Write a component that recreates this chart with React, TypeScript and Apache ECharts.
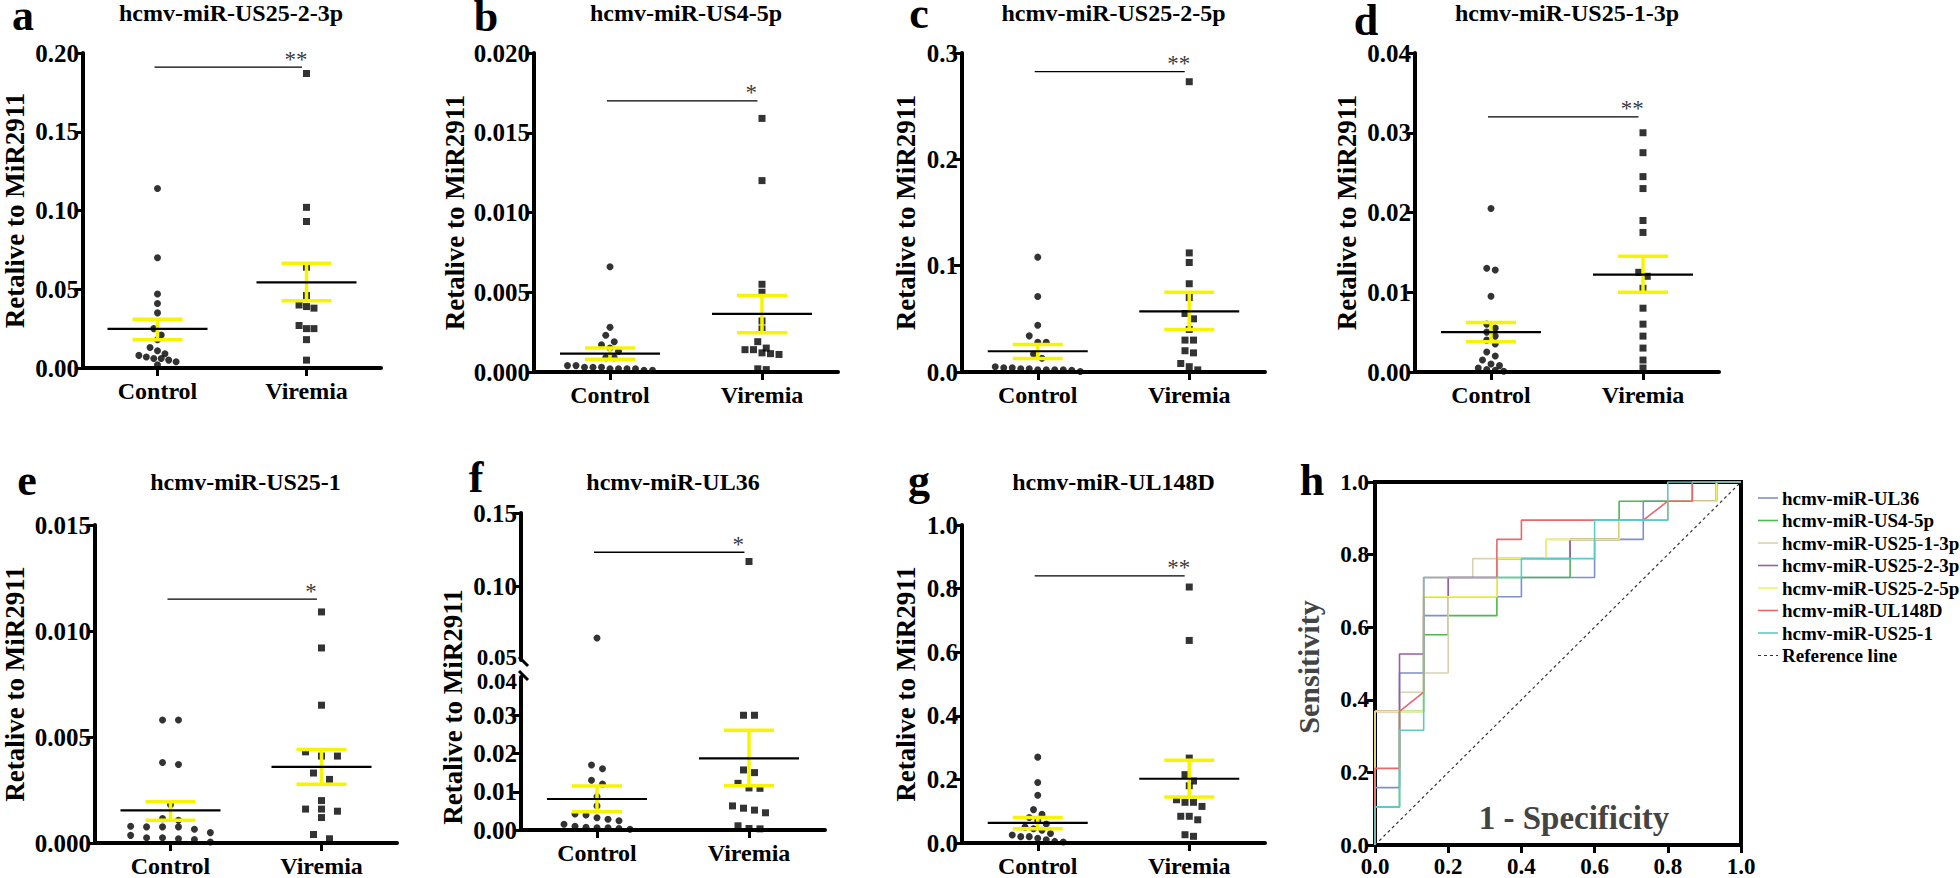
import React, { useEffect, useRef } from 'react';
import * as echarts from 'echarts';

const FONT = "'Liberation Serif', 'Times New Roman', Times, serif";
const YELLOW = '#F7F400';
const BLACK = '#000000';

const groups = ['Control', 'Viremia'];
const yAxisTitle = 'Retalive to MiR2911';

// ---- panel a ----
const aTitle = 'hcmv-miR-US25-2-3p';
const aTicks = [0, 0.05, 0.1, 0.15, 0.2];
const aControl = [0.114, 0.070, 0.047, 0.041, 0.035, 0.025, 0.021, 0.018, 0.013, 0.011, 0.009, 0.008, 0.007, 0.006, 0.006, 0.005, 0.004, 0.002];
const aViremia = [0.187, 0.102, 0.093, 0.064, 0.046, 0.040, 0.039, 0.038, 0.027, 0.025, 0.025, 0.018, 0.005];
const aMean = [0.0248, 0.0544];
const aSemLow = [0.018, 0.0427];
const aSemHigh = [0.031, 0.0665];
const aSig = 0.191;
const aStars = '**';

// ---- panel b ----
const bTitle = 'hcmv-miR-US4-5p';
const bTicks = [0, 0.005, 0.01, 0.015, 0.02];
const bControl = [0.0066, 0.0028, 0.0023, 0.0019, 0.0017, 0.0015, 0.0013, 0.0009, 0.0009, 0.0004, 0.0004, 0.0003, 0.0003, 0.0003, 0.0002, 0.0002, 0.0002, 0.0002, 0.0001, 0.0001];
const bViremia = [0.0159, 0.0120, 0.0055, 0.0050, 0.0032, 0.0027, 0.0019, 0.0015, 0.0014, 0.0014, 0.0012, 0.00115, 0.0011, 0.0002, 0.00015];
const bMean = [0.00115, 0.00365];
const bSemLow = [0.0008, 0.00246];
const bSemHigh = [0.0015, 0.00479];
const bSig = 0.017;
const bStars = '*';

// ---- panel c ----
const cTitle = 'hcmv-miR-US25-2-5p';
const cTicks = [0, 0.1, 0.2, 0.3];
const cControl = [0.108, 0.071, 0.044, 0.034, 0.028, 0.028, 0.017, 0.013, 0.005, 0.004, 0.004, 0.003, 0.003, 0.002, 0.002, 0.002, 0.002, 0.0016, 0.0005];
const cViremia = [0.273, 0.112, 0.103, 0.083, 0.070, 0.055, 0.050, 0.040, 0.030, 0.030, 0.020, 0.018, 0.008, 0.005, 0.002];
const cMean = [0.0195, 0.057];
const cSemLow = [0.0126, 0.040];
const cSemHigh = [0.0258, 0.075];
const cSig = 0.2825;
const cStars = '**';

// ---- panel d ----
const dTitle = 'hcmv-miR-US25-1-3p';
const dTicks = [0, 0.01, 0.02, 0.03, 0.04];
const dControl = [0.0205, 0.013, 0.0128, 0.0095, 0.006, 0.0055, 0.005, 0.0045, 0.004, 0.0035, 0.0025, 0.002, 0.0015, 0.001, 0.0008, 0.0005, 0.0003, 0.0002, 0.0001];
const dViremia = [0.030, 0.0275, 0.0245, 0.023, 0.019, 0.0175, 0.0125, 0.012, 0.0105, 0.008, 0.006, 0.0045, 0.003, 0.0015, 0.0005];
const dMean = [0.005, 0.0122];
const dSemLow = [0.0038, 0.010];
const dSemHigh = [0.0062, 0.0145];
const dSig = 0.032;
const dStars = '**';

// ---- panel e ----
const eTitle = 'hcmv-miR-US25-1';
const eTicks = [0, 0.005, 0.01, 0.015];
const eControl = [0.0058, 0.0058, 0.0038, 0.0037, 0.0018, 0.00115, 0.00107, 0.00079, 0.00076, 0.00076, 0.00076, 0.00065, 0.00049, 0.00036, 0.00025, 0.00025, 0.0002, 0.00016, 0.00005];
const eViremia = [0.0109, 0.0092, 0.0065, 0.0043, 0.0041, 0.0041, 0.0033, 0.0030, 0.0020, 0.0016, 0.0016, 0.0015, 0.0012, 0.0004, 0.0002];
const eMean = [0.00154, 0.00359];
const eSemLow = [0.00107, 0.00277];
const eSemHigh = [0.00194, 0.00441];
const eSig = 0.0115;
const eStars = '*';

// ---- panel f (broken axis) ----
const fTitle = 'hcmv-miR-UL36';
const fLowTicks = [0, 0.01, 0.02, 0.03, 0.04];
const fHighTicks = [0.05, 0.1, 0.15];
const fControl = [0.065, 0.017, 0.016, 0.013, 0.012, 0.0087, 0.0063, 0.0042, 0.0039, 0.0032, 0.0028, 0.0024, 0.0015, 0.001, 0.0007, 0.0006, 0.0006, 0.0004, 0.0002];
const fViremia = [0.117, 0.030, 0.030, 0.0157, 0.015, 0.0122, 0.011, 0.0109, 0.0063, 0.0057, 0.0052, 0.0045, 0.0011, 0.0004, 0.0003];
const fMean = [0.0081, 0.0187];
const fSemLow = [0.0048, 0.0116];
const fSemHigh = [0.0115, 0.0261];
const fSig = 0.1233;
const fStars = '*';

// ---- panel g ----
const gTitle = 'hcmv-miR-UL148D';
const gTicks = [0, 0.2, 0.4, 0.6, 0.8, 1.0];
const gControl = [0.27, 0.19, 0.15, 0.105, 0.09, 0.08, 0.07, 0.06, 0.05, 0.045, 0.04, 0.03, 0.025, 0.02, 0.02, 0.015, 0.01, 0.005, 0.003];
const gViremia = [0.805, 0.637, 0.267, 0.215, 0.195, 0.18, 0.136, 0.128, 0.128, 0.115, 0.084, 0.084, 0.073, 0.026, 0.021];
const gMean = [0.063, 0.202];
const gSemLow = [0.045, 0.145];
const gSemHigh = [0.08, 0.26];
const gSig = 0.84;
const gStars = '**';

// ---- panel h (ROC) ----
const rocTicks = [0, 0.2, 0.4, 0.6, 0.8, 1.0];
const rocNames = ['hcmv-miR-UL36', 'hcmv-miR-US4-5p', 'hcmv-miR-US25-1-3p', 'hcmv-miR-US25-2-3p', 'hcmv-miR-US25-2-5p', 'hcmv-miR-UL148D', 'hcmv-miR-US25-1'];
const rocColors = ['#7E8FCC', '#4DB84D', '#D9D2B0', '#9C5BA8', '#F2F26A', '#E8676B', '#5CCBC4'];
const rocUL36 = [[0, 0], [0, 0.158], [0.067, 0.158], [0.067, 0.474], [0.133, 0.474], [0.133, 0.632], [0.2, 0.632], [0.2, 0.684], [0.4, 0.684], [0.4, 0.737], [0.6, 0.737], [0.6, 0.842], [0.733, 0.842], [0.733, 0.947], [0.933, 0.947], [0.933, 1], [1, 1]];
const rocUS45p = [[0, 0], [0, 0.105], [0.067, 0.105], [0.067, 0.368], [0.133, 0.368], [0.133, 0.579], [0.2, 0.579], [0.2, 0.632], [0.333, 0.632], [0.333, 0.737], [0.533, 0.737], [0.533, 0.842], [0.667, 0.842], [0.667, 0.947], [0.867, 0.947], [0.867, 1], [1, 1]];
const rocUS2513p = [[0, 0], [0, 0.368], [0.067, 0.368], [0.067, 0.421], [0.133, 0.421], [0.133, 0.474], [0.2, 0.474], [0.2, 0.737], [0.267, 0.737], [0.267, 0.789], [0.467, 0.789], [0.467, 0.842], [0.667, 0.842], [0.667, 0.895], [0.8, 0.895], [0.8, 0.947], [0.933, 0.947], [0.933, 1], [1, 1]];
const rocUS2523p = [[0, 0], [0, 0.368], [0.067, 0.368], [0.067, 0.526], [0.133, 0.526], [0.133, 0.684], [0.2, 0.684], [0.2, 0.737], [0.333, 0.737], [0.333, 0.789], [0.533, 0.789], [0.533, 0.842], [0.667, 0.842], [0.667, 0.895], [0.8, 0.895], [0.8, 0.947], [0.933, 0.947], [0.933, 1], [1, 1]];
const rocUS2525p = [[0, 0], [0, 0.368], [0.133, 0.368], [0.133, 0.684], [0.333, 0.684], [0.333, 0.789], [0.467, 0.789], [0.467, 0.842], [0.667, 0.842], [0.667, 0.895], [0.8, 0.895], [0.8, 0.947], [0.933, 0.947], [0.933, 1], [1, 1]];
const rocUL148D = [[0, 0], [0, 0.211], [0.067, 0.211], [0.067, 0.368], [0.133, 0.421], [0.133, 0.737], [0.333, 0.737], [0.333, 0.842], [0.4, 0.842], [0.4, 0.895], [0.733, 0.895], [0.8, 0.947], [0.867, 0.947], [0.867, 1], [1, 1]];
const rocUS251 = [[0, 0], [0, 0.105], [0.067, 0.105], [0.067, 0.316], [0.133, 0.316], [0.133, 0.737], [0.4, 0.737], [0.4, 0.789], [0.6, 0.789], [0.6, 0.895], [0.8, 0.895], [0.8, 1], [1, 1]];
const rocReference = [[0, 0], [1, 1]];
const refName = 'Reference line';

// ---------- layout (pixels) ----------
const dotPanels = [
  { letter: 'a', title: aTitle, ticks: aTicks, dec: 2, control: aControl, viremia: aViremia, mean: aMean, lo: aSemLow, hi: aSemHigh, sig: aSig, stars: aStars, box: { left: 81, top: 53, width: 300, height: 315 }, nameGap: 55, letterPos: [23, 15], titleY: 13, spacing: 7.5 },
  { letter: 'b', title: bTitle, ticks: bTicks, dec: 3, control: bControl, viremia: bViremia, mean: bMean, lo: bSemLow, hi: bSemHigh, sig: bSig, stars: bStars, box: { left: 534, top: 53, width: 304, height: 319 }, nameGap: 66, letterPos: [486, 16], titleY: 13, spacing: 8.5 },
  { letter: 'c', title: cTitle, ticks: cTicks, dec: 1, control: cControl, viremia: cViremia, mean: cMean, lo: cSemLow, hi: cSemHigh, sig: cSig, stars: cStars, box: { left: 962, top: 53, width: 303, height: 319 }, nameGap: 43, letterPos: [919, 13], titleY: 13, spacing: 8.5 },
  { letter: 'd', title: dTitle, ticks: dTicks, dec: 2, control: dControl, viremia: dViremia, mean: dMean, lo: dSemLow, hi: dSemHigh, sig: dSig, stars: dStars, box: { left: 1415, top: 53, width: 304, height: 319 }, nameGap: 55, letterPos: [1366, 20], titleY: 13, spacing: 8.5 },
  { letter: 'e', title: eTitle, ticks: eTicks, dec: 3, control: eControl, viremia: eViremia, mean: eMean, lo: eSemLow, hi: eSemHigh, sig: eSig, stars: eStars, box: { left: 94, top: 525, width: 303, height: 318 }, nameGap: 67, letterPos: [27, 480], titleY: 482, spacing: 16 },
  { letter: 'g', title: gTitle, ticks: gTicks, dec: 1, control: gControl, viremia: gViremia, mean: gMean, lo: gSemLow, hi: gSemHigh, sig: gSig, stars: gStars, box: { left: 962, top: 525, width: 303, height: 318 }, nameGap: 43, letterPos: [919, 480], titleY: 482, spacing: 8.5 },
];

const fLayout = { left: 521, width: 304, highTop: 513, highHeight: 147, lowTop: 677, lowHeight: 153, letterPos: [476, 477], titleY: 482, spacing: 11, yTitle: [453, 707] };
const hLayout = { left: 1375, top: 482, width: 366, height: 363, letterPos: [1312, 480] };
const legendLayout = { x: 1758, y: 498, lineLen: 20, textGap: 4, rowPitch: 22.5, fontSize: 19 };

// ---------- helpers ----------
function swarm(values: number[], center: number, pxPerVal: number, pxPerX: number, spacing: number) {
  const sorted = [...values].sort((p, q) => q - p);
  const bins: number[][] = [];
  let cur: number[] = [];
  let anchor = 0;
  for (const v of sorted) {
    if (cur.length && (anchor - v) * pxPerVal < 7.5) cur.push(v);
    else {
      if (cur.length) bins.push(cur);
      cur = [v];
      anchor = v;
    }
  }
  if (cur.length) bins.push(cur);
  const out: number[][] = [];
  bins.forEach((b) => b.forEach((v, i) => out.push([center + ((i - (b.length - 1) / 2) * spacing) / pxPerX, v])));
  return out;
}

const meanSemRender = (params: any, api: any) => {
  const x = api.value(0);
  const m = api.coord([x, api.value(1)]);
  const lo = api.coord([x, api.value(2)]);
  const hi = api.coord([x, api.value(3)]);
  const ys = { stroke: YELLOW, lineWidth: 3.5 };
  return {
    type: 'group',
    children: [
      { type: 'line', shape: { x1: lo[0], y1: lo[1], x2: hi[0], y2: hi[1] }, style: ys },
      { type: 'line', shape: { x1: lo[0] - 25, y1: lo[1], x2: lo[0] + 25, y2: lo[1] }, style: ys },
      { type: 'line', shape: { x1: hi[0] - 25, y1: hi[1], x2: hi[0] + 25, y2: hi[1] }, style: ys },
      { type: 'line', shape: { x1: m[0] - 50, y1: m[1], x2: m[0] + 50, y2: m[1] }, style: { stroke: BLACK, lineWidth: 2.2 } },
    ],
  };
};

const axisLine = { show: true, lineStyle: { color: BLACK, width: 4 } };
const axisTick = { show: true, length: 8, lineStyle: { color: BLACK, width: 3 } };

function txt(text: string, x: number, y: number, size: number, extra: any = {}) {
  return {
    type: 'text',
    x,
    y,
    rotation: extra.rotation || 0,
    z: 10,
    style: {
      text,
      fontSize: size,
      fontWeight: extra.weight || 'bold',
      fontFamily: FONT,
      fill: extra.fill || BLACK,
      align: extra.align || 'center',
      verticalAlign: 'middle',
      lineHeight: extra.lineHeight,
    },
  };
}

function buildOption() {
  const grid: any[] = [];
  const xAxis: any[] = [];
  const yAxis: any[] = [];
  const series: any[] = [];
  const graphic: any[] = [];

  const addCartesian = (box: any, yCfg: any, showX: boolean) => {
    const gi = grid.length;
    grid.push({ ...box });
    xAxis.push({
      gridIndex: gi,
      type: 'category',
      data: groups,
      show: showX,
      boundaryGap: true,
      axisLine,
      axisTick: { ...axisTick, alignWithLabel: true },
      axisLabel: { fontSize: 24, fontWeight: 'bold', fontFamily: FONT, color: BLACK, margin: 11 },
      splitLine: { show: false },
    });
    const xv = xAxis.length;
    xAxis.push({ gridIndex: gi, type: 'value', min: 0.5, max: 2.5, show: false, splitLine: { show: false } });
    const yi = yAxis.length;
    const ticks = yCfg.ticks;
    yAxis.push({
      gridIndex: gi,
      type: 'value',
      min: ticks[0],
      max: ticks[ticks.length - 1],
      interval: ticks[1] - ticks[0],
      axisLine,
      axisTick,
      splitLine: { show: false },
      axisLabel: {
        fontSize: 25,
        fontWeight: 'bold',
        fontFamily: FONT,
        color: BLACK,
        margin: 4,
        showMinLabel: yCfg.hideMin ? false : true,
        showMaxLabel: yCfg.hideMax ? false : true,
        formatter: (v: number) => v.toFixed(yCfg.dec),
      },
      name: yCfg.name || '',
      nameLocation: 'middle',
      nameRotate: 90,
      nameGap: yCfg.nameGap || 50,
      nameTextStyle: { fontSize: 27, fontWeight: 'bold', fontFamily: FONT, color: BLACK },
    });
    return { xv, yi, pxPerVal: box.height / (ticks[ticks.length - 1] - ticks[0]), pxPerX: box.width / 2 };
  };

  const addPoints = (ax: any, control: number[], viremia: number[], spacing: number) => {
    series.push({
      type: 'scatter', xAxisIndex: ax.xv, yAxisIndex: ax.yi, symbol: 'circle', symbolSize: 7,
      itemStyle: { color: BLACK }, data: swarm(control, 1, ax.pxPerVal, ax.pxPerX, spacing), z: 2,
    });
    series.push({
      type: 'scatter', xAxisIndex: ax.xv, yAxisIndex: ax.yi, symbol: 'rect', symbolSize: 7,
      itemStyle: { color: BLACK }, data: swarm(viremia, 2, ax.pxPerVal, ax.pxPerX, spacing), z: 2,
    });
  };

  const addMeanSem = (ax: any, mean: number[], lo: number[], hi: number[]) => {
    series.push({
      type: 'custom', xAxisIndex: ax.xv, yAxisIndex: ax.yi, renderItem: meanSemRender, z: 5, clip: false,
      encode: { x: 0, y: 1 },
      data: mean.map((m, i) => [i + 1, m, lo[i], hi[i]]),
    });
  };

  const addSig = (ax: any, sig: number, stars: string) => {
    series.push({
      type: 'line', xAxisIndex: ax.xv, yAxisIndex: ax.yi, symbol: 'none', z: 4,
      lineStyle: { color: BLACK, width: 1.3 }, data: [[0.98, sig], [1.97, sig]],
    });
    series.push({
      type: 'scatter', xAxisIndex: ax.xv, yAxisIndex: ax.yi, symbolSize: 1, z: 4,
      itemStyle: { color: 'rgba(0,0,0,0)' },
      label: { show: true, position: 'top', distance: -4, formatter: stars, fontSize: 23, fontFamily: FONT, color: BLACK },
      data: [[1.93, sig]],
    });
  };

  const letterSize = 44;
  const letterExtra = { lineHeight: 30 };

  dotPanels.forEach((p) => {
    const ax = addCartesian(p.box, { ticks: p.ticks, dec: p.dec, name: yAxisTitle, nameGap: p.nameGap }, true);
    addPoints(ax, p.control, p.viremia, p.spacing);
    addMeanSem(ax, p.mean, p.lo, p.hi);
    addSig(ax, p.sig, p.stars);
    graphic.push(txt(p.letter, p.letterPos[0], p.letterPos[1], letterSize, letterExtra));
    graphic.push(txt(p.title, p.box.left + p.box.width / 2, p.titleY, 24));
  });

  // panel f : broken y axis
  const fHigh = addCartesian({ left: fLayout.left, width: fLayout.width, top: fLayout.highTop, height: fLayout.highHeight }, { ticks: fHighTicks, dec: 2, hideMin: true }, false);
  const fLow = addCartesian({ left: fLayout.left, width: fLayout.width, top: fLayout.lowTop, height: fLayout.lowHeight }, { ticks: fLowTicks, dec: 2, hideMax: true }, true);
  const cut = fLowTicks[fLowTicks.length - 1];
  addPoints(fHigh, fControl.filter((v) => v > cut), fViremia.filter((v) => v > cut), fLayout.spacing);
  addPoints(fLow, fControl.filter((v) => v <= cut), fViremia.filter((v) => v <= cut), fLayout.spacing);
  addMeanSem(fLow, fMean, fSemLow, fSemHigh);
  addSig(fHigh, fSig, fStars);
  graphic.push(txt('f', fLayout.letterPos[0], fLayout.letterPos[1], letterSize, letterExtra));
  graphic.push(txt(fTitle, fLayout.left + fLayout.width / 2, fLayout.titleY, 24));
  graphic.push(txt(yAxisTitle, fLayout.yTitle[0], fLayout.yTitle[1], 27, { rotation: Math.PI / 2 }));
  const bx = fLayout.left;
  const yHighEnd = fLayout.highTop + fLayout.highHeight;
  // labels at the break, nudged apart so they just touch as in the original
  graphic.push(txt(fHighTicks[0].toFixed(2), bx - 4, yHighEnd - 3, 23, { align: 'right', lineHeight: 19 }));
  graphic.push(txt(fLowTicks[fLowTicks.length - 1].toFixed(2), bx - 4, fLayout.lowTop + 4, 23, { align: 'right', lineHeight: 19 }));
  graphic.push({ type: 'line', z: 10, shape: { x1: bx - 2, y1: yHighEnd - 3, x2: bx + 7, y2: yHighEnd + 6 }, style: { stroke: BLACK, lineWidth: 3 } });
  graphic.push({ type: 'line', z: 10, shape: { x1: bx - 2, y1: fLayout.lowTop - 6, x2: bx + 7, y2: fLayout.lowTop + 3 }, style: { stroke: BLACK, lineWidth: 3 } });

  // panel h : ROC
  const hg = grid.length;
  grid.push({ left: hLayout.left, top: hLayout.top, width: hLayout.width, height: hLayout.height, show: true, borderColor: BLACK, borderWidth: 4, backgroundColor: 'transparent' });
  const hx = xAxis.length;
  const rocAxis = (margin: number) => ({
    gridIndex: hg,
    type: 'value',
    min: rocTicks[0],
    max: rocTicks[rocTicks.length - 1],
    interval: rocTicks[1] - rocTicks[0],
    axisLine,
    axisTick,
    splitLine: { show: false },
    axisLabel: { fontSize: 23, fontWeight: 'bold', fontFamily: FONT, color: BLACK, margin, formatter: (v: number) => v.toFixed(1) },
  });
  xAxis.push(rocAxis(10));
  const hy = yAxis.length;
  yAxis.push(rocAxis(6));
  const rocData = [rocUL36, rocUS45p, rocUS2513p, rocUS2523p, rocUS2525p, rocUL148D, rocUS251];
  rocData.forEach((d, i) => {
    series.push({
      name: rocNames[i], type: 'line', xAxisIndex: hx, yAxisIndex: hy, symbol: 'none', z: 3,
      lineStyle: { color: rocColors[i], width: 1.6 }, itemStyle: { color: rocColors[i] }, data: d,
    });
  });
  series.push({
    name: refName, type: 'line', xAxisIndex: hx, yAxisIndex: hy, symbol: 'none', z: 2,
    lineStyle: { color: '#333333', width: 1.2, type: [3, 3] }, itemStyle: { color: '#333333' }, data: rocReference,
  });
  graphic.push(txt('h', hLayout.letterPos[0], hLayout.letterPos[1], letterSize, letterExtra));
  graphic.push(txt('Sensitivity', 1308, 667, 30, { rotation: Math.PI / 2, fill: '#444444' }));
  graphic.push(txt('1 - Specificity', 1574, 818, 33, { fill: '#444444' }));

  // legend (drawn as graphics so the icons are plain line samples)
  const L = legendLayout;
  [...rocNames, refName].forEach((name, i) => {
    const y = L.y + i * L.rowPitch;
    const isRef = i === rocNames.length;
    graphic.push({
      type: 'line', z: 10,
      shape: { x1: L.x, y1: y, x2: L.x + L.lineLen, y2: y },
      style: { stroke: isRef ? '#333333' : rocColors[i], lineWidth: isRef ? 1.2 : 1.6, lineDash: isRef ? [3, 3] : null },
    });
    graphic.push(txt(name, L.x + L.lineLen + L.textGap, y, L.fontSize, { align: 'left' }));
  });

  return {
    animation: false,
    backgroundColor: '#ffffff',
    grid,
    xAxis,
    yAxis,
    series,
    graphic,
  };
}

export default function App() {
  const ref = useRef<HTMLDivElement>(null);
  useEffect(() => {
    document.body.style.margin = '0';
    const chart = echarts.init(ref.current as HTMLDivElement, undefined, { renderer: 'svg' });
    chart.setOption(buildOption() as any);
    return () => chart.dispose();
  }, []);
  return <div ref={ref} style={{ width: 1960, height: 878, background: '#ffffff' }} />;
}
